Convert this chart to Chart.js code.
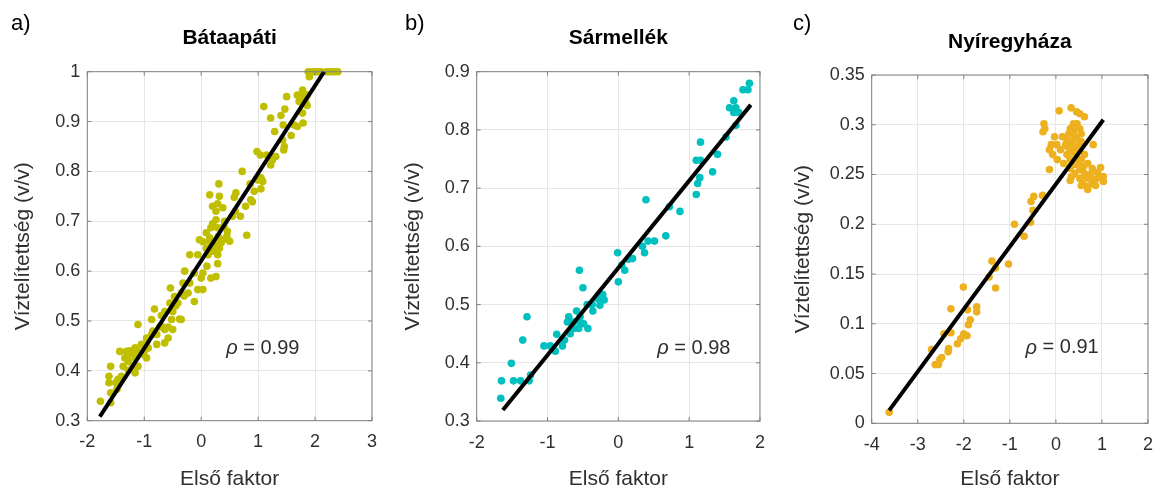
<!DOCTYPE html>
<html>
<head>
<meta charset="utf-8">
<script src="https://cdn.jsdelivr.net/npm/chart.js@4.4.1/dist/chart.umd.min.js"></script>
<style>
  html, body { margin: 0; padding: 0; background: #fff; }
  #wrap { position: relative; width: 1164px; height: 490px; overflow: hidden; }
  canvas { position: absolute; top: 0; }
</style>
</head>
<body>
<div id="wrap">
  <canvas id="chartA" width="388" height="490" style="left:0px"></canvas>
  <canvas id="chartB" width="388" height="490" style="left:388px"></canvas>
  <canvas id="chartC" width="388" height="490" style="left:776px"></canvas>
</div>
<script>
// tick labels
const bataXTicks = [-2, -1, 0, 1, 2, 3];
const bataYTicks = [0.3, 0.4, 0.5, 0.6, 0.7, 0.8, 0.9, 1];
const sarmXTicks = [-2, -1, 0, 1, 2];
const sarmYTicks = [0.3, 0.4, 0.5, 0.6, 0.7, 0.8, 0.9];
const nyirXTicks = [-4, -3, -2, -1, 0, 1, 2];
const nyirYTicks = [0, 0.05, 0.1, 0.15, 0.2, 0.25, 0.3, 0.35];

const titles = ['Bátaapáti', 'Sármellék', 'Nyíregyháza'];
const rhoValues = ['0.99', '0.98', '0.91'];

// measured points: [első faktor, víztelítettség]
const bataPoints = [
  [1.88, 1], [1.95, 1], [2.0, 1], [2.05, 1], [2.1, 1], [2.2, 1], [2.25, 1], [2.3, 1], [2.35, 1], [2.4, 1],
  [1.9, 0.99], [1.78, 0.963], [1.69, 0.953], [1.78, 0.953], [1.86, 0.953], [1.5, 0.95], [1.72, 0.94], [1.83, 0.94],
  [1.1, 0.93], [1.86, 0.932], [1.47, 0.925], [1.78, 0.917], [1.4, 0.912], [1.22, 0.907], [1.79, 0.897],
  [1.44, 0.893], [1.63, 0.893], [1.69, 0.89], [1.29, 0.88], [1.58, 0.872], [1.43, 0.863], [1.46, 0.85],
  [1.45, 0.843], [0.98, 0.84], [1.04, 0.833], [1.15, 0.833], [1.31, 0.83], [1.25, 0.823], [1.22, 0.813],
  [0.72, 0.8], [1.05, 0.787], [0.99, 0.783], [1.08, 0.78], [0.31, 0.775], [0.86, 0.775], [1.05, 0.765],
  [0.93, 0.76], [0.61, 0.757], [0.15, 0.753], [0.32, 0.75], [0.58, 0.748], [0.87, 0.743], [0.9, 0.739],
  [0.29, 0.735], [0.2, 0.73], [0.78, 0.73], [0.38, 0.727], [0.26, 0.72], [0.69, 0.71], [0.26, 0.703],
  [0.41, 0.7], [0.2, 0.695], [0.17, 0.687], [0.29, 0.687], [0.46, 0.68], [0.09, 0.677], [0.8, 0.672],
  [0.15, 0.667], [-0.03, 0.663], [0.38, 0.663], [0.5, 0.66], [0.35, 0.657],
  [0.03, 0.659], [0.15, 0.659], [0.26, 0.659], [0.09, 0.646], [0.26, 0.646], [0.32, 0.646],
  [-0.2, 0.633], [-0.06, 0.633], [0.12, 0.633], [0.29, 0.633], [0.29, 0.615], [-0.29, 0.6],
  [-0.12, 0.596], [0.03, 0.596], [0.26, 0.589], [0, 0.586], [0.17, 0.586], [-0.32, 0.576], [-0.2, 0.576],
  [-0.54, 0.566], [-0.06, 0.563], [0.03, 0.563], [-0.35, 0.556], [-0.23, 0.556], [-0.47, 0.549],
  [-0.12, 0.539], [-0.55, 0.536], [-0.41, 0.536], [-0.82, 0.524], [-0.64, 0.519], [-0.5, 0.519],
  [-0.7, 0.511], [-0.38, 0.504], [-0.87, 0.503], [-0.52, 0.503], [-0.35, 0.503], [-1.11, 0.493],
  [-0.73, 0.488], [-0.58, 0.488], [-0.64, 0.483], [-0.5, 0.483], [-0.87, 0.473], [-0.78, 0.473],
  [-0.96, 0.466], [-0.58, 0.466], [-0.64, 0.456], [-1.05, 0.453], [-0.78, 0.453], [-1.16, 0.446],
  [-0.93, 0.446], [-1.43, 0.439], [-1.31, 0.439], [-1.11, 0.439], [-1.19, 0.433], [-1.02, 0.433],
  [-1.34, 0.426], [-1.16, 0.426], [-0.96, 0.426], [-1.28, 0.419], [-1.59, 0.409], [-1.37, 0.409],
  [-1.11, 0.409], [-1.28, 0.401], [-1.16, 0.396], [-1.62, 0.389], [-1.4, 0.389], [-1.46, 0.383],
  [-1.62, 0.376], [-1.5, 0.376], [-1.48, 0.363], [-1.59, 0.356], [-1.77, 0.339], [-1.59, 0.336],
  [-0.95, 0.46], [-0.85, 0.48], [-0.7, 0.49], [-0.45, 0.53], [-0.3, 0.55], [0.1, 0.61], [0.2, 0.64],
  [0.4, 0.69], [0.55, 0.71], [0.45, 0.67], [0.6, 0.72], [0.3, 0.67], [-1.25, 0.44], [-1.0, 0.44],
  [-1.2, 0.41], [-1.3, 0.43]
];

const sarmPoints = [
  [1.85, 0.88], [1.76, 0.869], [1.83, 0.869], [1.63, 0.85], [1.57, 0.838], [1.66, 0.838], [1.63, 0.83],
  [1.7, 0.83], [1.66, 0.808], [1.52, 0.788], [1.16, 0.779], [1.4, 0.758], [1.1, 0.748], [1.16, 0.748],
  [1.33, 0.728], [1.15, 0.718], [1.12, 0.708], [1.1, 0.689], [0.39, 0.68], [0.72, 0.668], [0.87, 0.66],
  [0.67, 0.618], [0.42, 0.609], [0.51, 0.609], [0.34, 0.6], [0.37, 0.589], [-0.01, 0.589], [0.2, 0.579],
  [0.14, 0.578], [0.05, 0.568], [0.09, 0.559], [-0.55, 0.559], [0, 0.539], [-0.5, 0.529], [-0.22, 0.517],
  [-0.29, 0.51], [-0.2, 0.508], [-0.26, 0.499], [-0.44, 0.5], [-0.37, 0.5], [-0.36, 0.489], [-0.59, 0.489],
  [-0.7, 0.479], [-0.54, 0.479], [-0.72, 0.47], [-0.63, 0.47], [-0.54, 0.47], [-0.49, 0.467], [-0.43, 0.459],
  [-0.63, 0.459], [-0.56, 0.459], [-0.68, 0.45], [-0.87, 0.449], [-0.76, 0.439], [-0.79, 0.429],
  [-0.89, 0.42], [-1.05, 0.429], [-0.96, 0.429], [-1.29, 0.479], [-1.35, 0.439], [-1.51, 0.399],
  [-1.65, 0.369], [-1.48, 0.369], [-1.38, 0.369], [-1.26, 0.369], [-1.24, 0.379], [-1.66, 0.339]
];

const nyirPoints = [
  [-3.62, 0.011], [-2.7, 0.074], [-2.62, 0.059], [-2.55, 0.059], [-2.52, 0.064], [-2.48, 0.066],
  [-2.43, 0.09], [-2.28, 0.091], [-2.28, 0.115], [-2.34, 0.072], [-2.33, 0.075], [-2.14, 0.08],
  [-2.07, 0.085], [-2.0, 0.09], [-1.93, 0.088], [-1.9, 0.099], [-1.86, 0.104], [-2.01, 0.137],
  [-1.92, 0.114], [-1.72, 0.117], [-1.72, 0.112], [-1.45, 0.147], [-1.39, 0.163], [-1.31, 0.156],
  [-1.31, 0.136], [-1.03, 0.16], [-0.9, 0.2], [-0.69, 0.188], [-0.55, 0.202], [-0.54, 0.223],
  [-0.48, 0.228], [-0.5, 0.214], [-0.29, 0.229], [-0.14, 0.255],
  [0.07, 0.314], [0.33, 0.317], [0.45, 0.313], [0.52, 0.311], [0.62, 0.308], [-0.26, 0.301], [-0.24, 0.296],
  [-0.28, 0.293], [0.38, 0.301], [0.46, 0.301], [0.31, 0.296], [0.41, 0.296], [0.52, 0.296], [0.28, 0.291],
  [0.39, 0.29], [0.55, 0.291], [-0.03, 0.288], [0.14, 0.288], [0.24, 0.286], [0.45, 0.286], [0.34, 0.283],
  [0.55, 0.283], [-0.1, 0.28], [0.02, 0.28], [0.21, 0.28], [0.81, 0.28], [-0.14, 0.275], [0.1, 0.275],
  [0.31, 0.275], [0.52, 0.275], [-0.07, 0.27], [0.24, 0.27], [0.45, 0.27], [0.62, 0.27], [0.03, 0.265],
  [0.31, 0.265], [0.55, 0.265], [0.17, 0.261], [0.41, 0.26], [0.69, 0.261], [0.31, 0.256], [0.52, 0.255],
  [0.79, 0.256], [0.97, 0.257], [0.41, 0.251], [0.62, 0.251], [0.9, 0.252], [0.34, 0.248], [0.52, 0.246],
  [0.72, 0.246], [0.93, 0.247], [1.03, 0.248], [1.03, 0.243], [0.59, 0.241], [0.79, 0.241], [0.55, 0.239],
  [0.69, 0.238], [0.86, 0.239], [0.69, 0.235], [0.31, 0.244], [0.25, 0.278], [0.4, 0.278], [0.48, 0.262],
  [0.6, 0.258], [0.65, 0.248], [0.75, 0.25], [0.85, 0.245], [0.38, 0.272], [0.5, 0.279]
];

// fitted regression lines (end points)
const bataFit = [[-1.78, 0.308], [2.16, 1.0]];
const sarmFit = [[-1.63, 0.319], [1.87, 0.843]];
const nyirFit = [[-3.62, 0.013], [1.03, 0.305]];

const FONT = "'Liberation Sans', Arial, Helvetica, sans-serif";
const TEXT = '#2f2f2f';
const GRID = '#e6e6e6';
const BOX = '#808080';

Chart.defaults.font.family = FONT;

// box, inward ticks, panel letter, title and rho text
const decorPlugin = {
  id: 'decor',
  afterDraw(chart, args, opts) {
    const { ctx, chartArea: a, scales } = chart;
    ctx.save();
    ctx.strokeStyle = BOX;
    ctx.lineWidth = 1;
    ctx.strokeRect(a.left, a.top, a.right - a.left, a.bottom - a.top);
    ctx.beginPath();
    scales.x.ticks.forEach(t => {
      const px = scales.x.getPixelForValue(t.value);
      ctx.moveTo(px, a.bottom); ctx.lineTo(px, a.bottom - 4);
      ctx.moveTo(px, a.top); ctx.lineTo(px, a.top + 4);
    });
    scales.y.ticks.forEach(t => {
      const py = scales.y.getPixelForValue(t.value);
      ctx.moveTo(a.left, py); ctx.lineTo(a.left + 4, py);
      ctx.moveTo(a.right, py); ctx.lineTo(a.right - 4, py);
    });
    ctx.stroke();

    ctx.fillStyle = '#000';
    ctx.textBaseline = 'alphabetic';
    ctx.textAlign = 'left';
    ctx.font = '22px ' + FONT;
    ctx.fillText(opts.label, opts.labelX, 30);

    ctx.textAlign = 'center';
    ctx.font = 'bold 21px ' + FONT;
    ctx.fillText(opts.title, (a.left + a.right) / 2, a.top - 27.5);

    const rx = scales.x.getPixelForValue(opts.rhoAt[0]);
    const ry = scales.y.getPixelForValue(opts.rhoAt[1]);
    ctx.fillStyle = TEXT;
    ctx.textAlign = 'left';
    ctx.textBaseline = 'middle';
    ctx.font = 'italic 20px ' + FONT;
    ctx.fillText('ρ', rx, ry);
    const w = ctx.measureText('ρ').width;
    ctx.font = '20px ' + FONT;
    ctx.fillText(' = ' + opts.rho, rx + w, ry);
    ctx.restore();
  }
};

function makePanel(id, points, fit, xTicks, yTicks, color, box, decor) {
  return new Chart(document.getElementById(id), {
    type: 'scatter',
    data: {
      datasets: [
        {
          data: fit.map(p => ({ x: p[0], y: p[1] })),
          showLine: true,
          borderColor: '#000',
          borderWidth: 4,
          pointRadius: 0,
          order: 0,
          clip: false
        },
        {
          data: points.map(p => ({ x: p[0], y: p[1] })),
          backgroundColor: color,
          borderWidth: 0,
          pointRadius: 3.8,
          order: 1,
          clip: false
        }
      ]
    },
    options: {
      responsive: false,
      animation: false,
      events: [],
      layout: {
        autoPadding: false,
        padding: { top: box.top, right: 388 - box.right, left: 0, bottom: 0 }
      },
      plugins: {
        legend: { display: false },
        tooltip: { enabled: false },
        decor: decor
      },
      scales: {
        x: {
          type: 'linear',
          min: xTicks[0],
          max: xTicks[xTicks.length - 1],
          afterBuildTicks: s => { s.ticks = xTicks.map(v => ({ value: v })); },
          afterFit: s => { s.height = 490 - box.bottom; },
          grid: { color: GRID, drawTicks: false },
          border: { display: false },
          ticks: { color: TEXT, font: { size: 18 }, padding: 11, callback: v => String(v) },
          title: {
            display: true, text: 'Első faktor', color: TEXT,
            font: { size: 21, lineHeight: 1 }, padding: { top: 0, bottom: 0 }
          }
        },
        y: {
          type: 'linear',
          min: yTicks[0],
          max: yTicks[yTicks.length - 1],
          afterBuildTicks: s => { s.ticks = yTicks.map(v => ({ value: v })); },
          afterFit: s => { s.width = box.left; },
          grid: { color: GRID, drawTicks: false },
          border: { display: false },
          ticks: { color: TEXT, font: { size: 18 }, padding: 7, callback: v => String(v) },
          title: {
            display: true, text: 'Víztelítettség (v/v)', color: TEXT,
            font: { size: 21, lineHeight: 1 }, padding: { top: box.yTitle - 10.5, bottom: 0 }
          }
        }
      }
    },
    plugins: [decorPlugin]
  });
}

makePanel('chartA', bataPoints, bataFit, bataXTicks, bataYTicks, '#BFBF00',
  { left: 87.3, right: 372.7, top: 71.7, bottom: 420.7, yTitle: 23 },
  { label: 'a)', labelX: 11, title: titles[0], rho: rhoValues[0], rhoAt: [0.44, 0.445] });

makePanel('chartB', sarmPoints, sarmFit, sarmXTicks, sarmYTicks, '#00BFBF',
  { left: 88.7, right: 374.7, top: 71.7, bottom: 421, yTitle: 25 },
  { label: 'b)', labelX: 17, title: titles[1], rho: rhoValues[1], rhoAt: [0.55, 0.425] });

makePanel('chartC', nyirPoints, nyirFit, nyirXTicks, nyirYTicks, '#EDB120',
  { left: 95.7, right: 385.7, top: 75, bottom: 423.3, yTitle: 27 },
  { label: 'c)', labelX: 17, title: titles[2], rho: rhoValues[2], rhoAt: [-0.66, 0.0757] });
</script>
</body>
</html>
